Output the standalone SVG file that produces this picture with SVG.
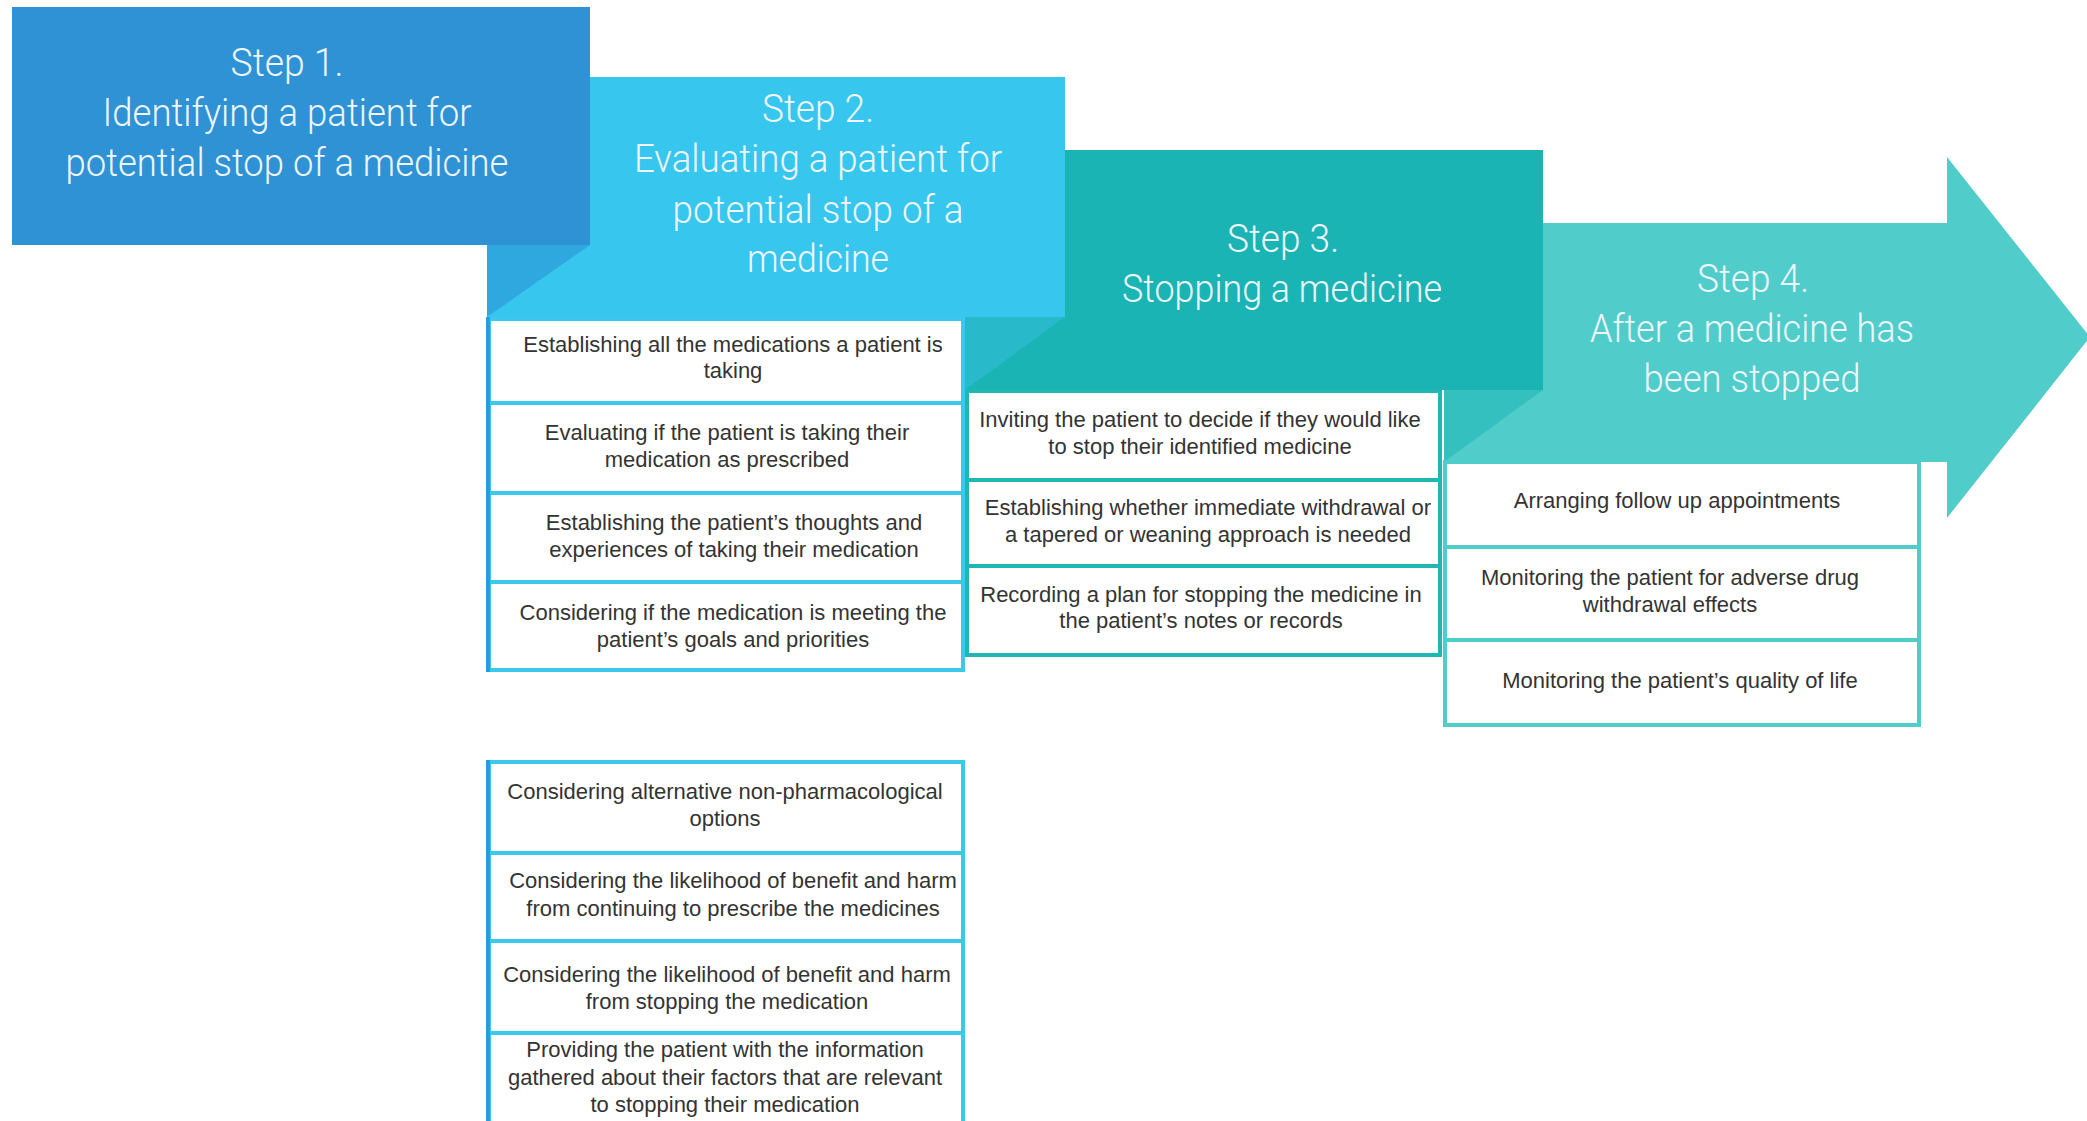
<svg xmlns="http://www.w3.org/2000/svg" width="2087" height="1121" viewBox="0 0 2087 1121">
  <style>
    .hdr { font-family: Roboto, "Liberation Sans", Arial, sans-serif; font-weight: 300; font-size: 38px; fill: #eef6fb; text-anchor: middle; }
    .item { font-family: "Liberation Sans", Arial, sans-serif; font-size: 22px; fill: #333333; text-anchor: middle; }
    .box2 { fill: #ffffff; stroke: #3cc8ee; stroke-width: 4; }
    .box3 { fill: #ffffff; stroke: #1fb6b3; stroke-width: 4; }
    .box4 { fill: #ffffff; stroke: #4ecdc9; stroke-width: 4; }
    .edge2 { stroke: #2e9ad8; stroke-width: 4; fill: none; }
  </style>
  <rect width="2087" height="1121" fill="#ffffff"/>

  <!-- Step headers, back to front -->
  <g id="step4">
    <polygon points="1444,223 1947,223 1947,157 2090,337 1947,518 1947,462 1444,462" fill="#50cdca"/>
  </g>
  <g id="step3">
    <rect x="965" y="150" width="578" height="240" fill="#1ab4b4"/>
    <polygon points="1444,390 1543,390 1444,462" fill="#33c0bf"/>
  </g>
  <g id="step2">
    <rect x="487" y="77" width="578" height="240" fill="#37c7ee"/>
    <polygon points="965,317 1065,317 965,390" fill="#28bacb"/>
  </g>
  <g id="step1">
    <rect x="12" y="7" width="578" height="238" fill="#2e92d5"/>
    <polygon points="487,245 590,245 487,317" fill="#2ea8df"/>
  </g>

  <!-- Header titles -->
  <g id="step1-title">
    <text class="hdr" x="287" y="76" textLength="113" lengthAdjust="spacingAndGlyphs">Step 1.</text>
    <text class="hdr" x="287" y="126" textLength="369" lengthAdjust="spacingAndGlyphs">Identifying a patient for</text>
    <text class="hdr" x="287" y="176" textLength="443" lengthAdjust="spacingAndGlyphs">potential stop of a medicine</text>
  </g>
  <g id="step2-title">
    <text class="hdr" x="818" y="122" textLength="112" lengthAdjust="spacingAndGlyphs">Step 2.</text>
    <text class="hdr" x="818" y="172" textLength="368" lengthAdjust="spacingAndGlyphs">Evaluating a patient for</text>
    <text class="hdr" x="818" y="223" textLength="291" lengthAdjust="spacingAndGlyphs">potential stop of a</text>
    <text class="hdr" x="818" y="272" textLength="142" lengthAdjust="spacingAndGlyphs">medicine</text>
  </g>
  <g id="step3-title">
    <text class="hdr" x="1283" y="252" textLength="112" lengthAdjust="spacingAndGlyphs">Step 3.</text>
    <text class="hdr" x="1282" y="302" textLength="320" lengthAdjust="spacingAndGlyphs">Stopping a medicine</text>
  </g>
  <g id="step4-title">
    <text class="hdr" x="1753" y="292" textLength="112" lengthAdjust="spacingAndGlyphs">Step 4.</text>
    <text class="hdr" x="1752" y="342" textLength="324" lengthAdjust="spacingAndGlyphs">After a medicine has</text>
    <text class="hdr" x="1752" y="392" textLength="217" lengthAdjust="spacingAndGlyphs">been stopped</text>
  </g>

  <!-- Step 2 tasks (upper block) -->
  <g id="s2-item1">
    <rect class="box2" x="489" y="319" width="474" height="84"/>
    <text class="item" x="733" y="352">Establishing all the medications a patient is</text>
    <text class="item" x="733" y="378">taking</text>
  </g>
  <g id="s2-item2">
    <rect class="box2" x="489" y="403" width="474" height="90"/>
    <text class="item" x="727" y="440">Evaluating if the patient is taking their</text>
    <text class="item" x="727" y="467">medication as prescribed</text>
  </g>
  <g id="s2-item3">
    <rect class="box2" x="489" y="493" width="474" height="89"/>
    <text class="item" x="734" y="530">Establishing the patient’s thoughts and</text>
    <text class="item" x="734" y="557">experiences of taking their medication</text>
  </g>
  <g id="s2-item4">
    <rect class="box2" x="489" y="582" width="474" height="88"/>
    <text class="item" x="733" y="620">Considering if the medication is meeting the</text>
    <text class="item" x="733" y="647">patient’s goals and priorities</text>
  </g>

  <!-- Step 2 tasks (lower block) -->
  <g id="s2-item5">
    <rect class="box2" x="489" y="762" width="474" height="91"/>
    <text class="item" x="725" y="799">Considering alternative non-pharmacological</text>
    <text class="item" x="725" y="826">options</text>
  </g>
  <g id="s2-item6">
    <rect class="box2" x="489" y="853" width="474" height="88"/>
    <text class="item" x="733" y="888">Considering the likelihood of benefit and harm</text>
    <text class="item" x="733" y="916">from continuing to prescribe the medicines</text>
  </g>
  <g id="s2-item7">
    <rect class="box2" x="489" y="941" width="474" height="92"/>
    <text class="item" x="727" y="982">Considering the likelihood of benefit and harm</text>
    <text class="item" x="727" y="1009">from stopping the medication</text>
  </g>
  <g id="s2-item8">
    <rect class="box2" x="489" y="1033" width="474" height="100"/>
    <text class="item" x="725" y="1057">Providing the patient with the information</text>
    <text class="item" x="725" y="1085">gathered about their factors that are relevant</text>
    <text class="item" x="725" y="1112">to stopping their medication</text>
  </g>
  <g id="s2-left-edges">
    <line class="edge2" x1="488" y1="317" x2="488" y2="672"/>
    <line class="edge2" x1="488" y1="760" x2="488" y2="1121"/>
  </g>

  <!-- Step 3 tasks -->
  <g id="s3-item1">
    <rect class="box3" x="967" y="391" width="473" height="89"/>
    <text class="item" x="1200" y="427">Inviting the patient to decide if they would like</text>
    <text class="item" x="1200" y="454">to stop their identified medicine</text>
  </g>
  <g id="s3-item2">
    <rect class="box3" x="967" y="480" width="473" height="86"/>
    <text class="item" x="1208" y="515">Establishing whether immediate withdrawal or</text>
    <text class="item" x="1208" y="542">a tapered or weaning approach is needed</text>
  </g>
  <g id="s3-item3">
    <rect class="box3" x="967" y="566" width="473" height="89"/>
    <text class="item" x="1201" y="602">Recording a plan for stopping the medicine in</text>
    <text class="item" x="1201" y="628">the patient’s notes or records</text>
  </g>

  <!-- Step 4 tasks -->
  <g id="s4-item1">
    <rect class="box4" x="1445" y="462" width="474" height="85"/>
    <text class="item" x="1677" y="508">Arranging follow up appointments</text>
  </g>
  <g id="s4-item2">
    <rect class="box4" x="1445" y="547" width="474" height="93"/>
    <text class="item" x="1670" y="585">Monitoring the patient for adverse drug</text>
    <text class="item" x="1670" y="612">withdrawal effects</text>
  </g>
  <g id="s4-item3">
    <rect class="box4" x="1445" y="640" width="474" height="85"/>
    <text class="item" x="1680" y="688">Monitoring the patient’s quality of life</text>
  </g>
</svg>
